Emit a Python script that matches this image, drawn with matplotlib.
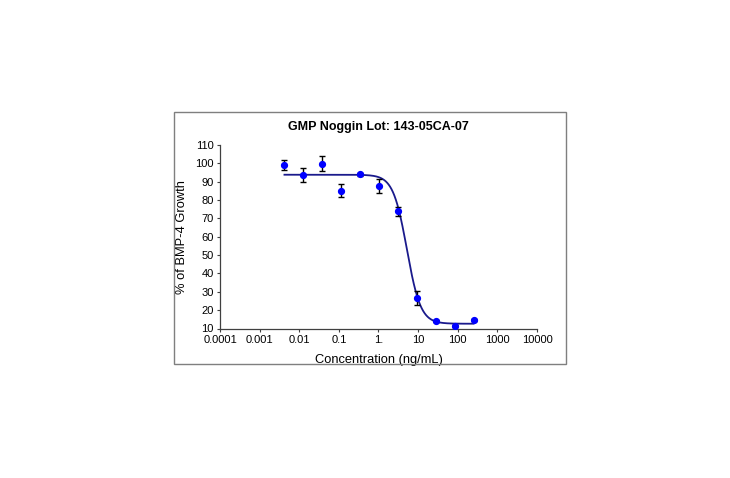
import matplotlib
matplotlib.use("Agg")
import matplotlib.pyplot as plt
import numpy as np
from matplotlib.patches import Rectangle

plt.rcParams['font.family'] = ['Liberation Sans', 'DejaVu Sans']

# Data
concentration = [0.00423, 0.0127, 0.0381, 0.114, 0.343, 1.03, 3.09, 9.26, 27.8, 83.3, 250.0]
growth = [99.1, 93.5, 99.9, 85.2, 94.1, 87.9, 73.8, 26.7, 14.0, 11.4, 14.5]
error = [2.9, 3.9, 4.3, 3.6, 0.9, 3.8, 2.6, 3.9, 0.5, 0.5, 0.5]

# Four-parameter logistic fit parameters (read from the drawn fit)
fit_top = 93.8
fit_bottom = 12.6
fit_ec50 = 5.2
fit_hill = 2.5

x_ticks = [1e-4, 1e-3, 1e-2, 1e-1, 1, 10, 100, 1000, 10000]
x_ticklabels = ["0.0001", "0.001", "0.01", "0.1", "1.", "10", "100", "1000", "10000"]
y_ticks = [10, 20, 30, 40, 50, 60, 70, 80, 90, 100, 110]

title = "GMP Noggin Lot: 143-05CA-07"
xlabel = "Concentration (ng/mL)"
ylabel = "% of BMP-4 Growth"

fig = plt.figure(figsize=(7.30, 4.78), dpi=100)
W, H = 730, 478

# outer frame
fig.patches.append(Rectangle((174.3 / W, 1 - 364.3 / H), (565.7 - 174.3) / W, (364.3 - 112.3) / H,
                             transform=fig.transFigure, fill=False, edgecolor="#7f7f7f", lw=1.0))

ax = fig.add_axes([220 / W, 1 - 328.5 / H, (537 - 220) / W, (328.5 - 145) / H])

xs = np.logspace(np.log10(concentration[0]), np.log10(concentration[-1]), 400)
ys = fit_bottom + (fit_top - fit_bottom) / (1 + (xs / fit_ec50) ** fit_hill)
ax.plot(xs, ys, color="#1a1a8c", lw=1.3, zorder=2)

ax.errorbar(concentration, growth, yerr=error, fmt="none", ecolor="black", elinewidth=1.0,
            capsize=2.5, capthick=1.0, zorder=3)
ax.plot(concentration, growth, "o", color="#0000ff", markersize=4.2, zorder=4)

ax.set_xscale("log")
ax.set_xlim(1e-4, 1e4)
ax.set_ylim(10, 110)
ax.set_xticks(x_ticks)
ax.set_xticklabels(x_ticklabels)
ax.xaxis.set_minor_locator(matplotlib.ticker.NullLocator())
ax.set_yticks(y_ticks)

for s in ["top", "right"]:
    ax.spines[s].set_visible(False)
for s in ["left", "bottom"]:
    ax.spines[s].set_color("#404040")
    ax.spines[s].set_linewidth(0.9)
ax.tick_params(axis="both", direction="out", length=2.5, width=0.8, color="#404040",
               labelsize=8, pad=2)

ax.set_title(title, fontsize=9, fontweight="bold", pad=11)
ax.set_xlabel(xlabel, fontsize=9.3, labelpad=7)
ax.set_ylabel(ylabel, fontsize=9.3)
ax.yaxis.set_label_coords(-0.10, 0.5)

fig.savefig("out.png", dpi=100)
